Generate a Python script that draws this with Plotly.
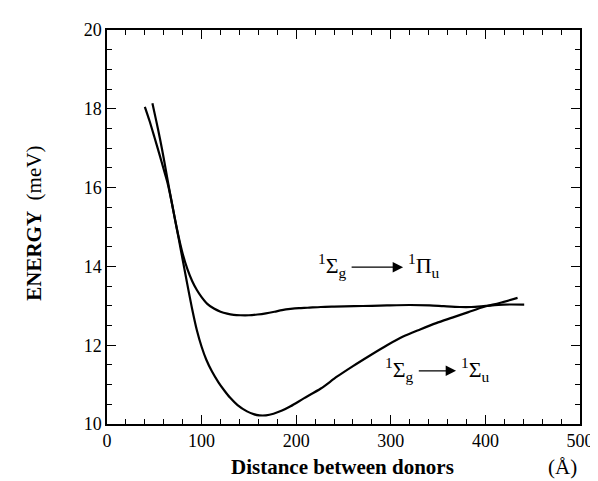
import plotly.graph_objects as go

# Upper curve: 1Σg -> 1Πu
pi_x = [40, 45, 50, 55, 60, 64, 68, 72, 76, 80, 85, 90, 95, 100, 106, 113, 120, 127, 134,
        141, 150, 159, 168, 177, 185, 194, 203, 212, 226, 240, 261, 280, 296, 320, 341,
        356, 373, 385, 398, 419, 441]
pi_e = [18.05, 17.69, 17.29, 16.88, 16.46, 16.12, 15.68, 15.18, 14.72, 14.32, 13.93, 13.63,
        13.4, 13.22, 13.05, 12.93, 12.85, 12.8, 12.77, 12.76, 12.76, 12.78, 12.81, 12.85,
        12.89, 12.92, 12.94, 12.95, 12.97, 12.98, 12.99, 13.0, 13.01, 13.02, 13.01, 12.99,
        12.97, 12.97, 12.99, 13.03, 13.03]

# Lower curve: 1Σg -> 1Σu
su_x = [48, 52, 56, 60, 64, 68, 72, 76, 80, 84, 90, 95, 100, 105, 111, 118, 124, 130, 138,
        148, 155, 161, 168, 176, 185, 194, 208, 226, 243, 260, 278, 296, 313, 331, 348, 365,
        382, 398, 415, 434]
su_e = [18.14, 17.7, 17.24, 16.74, 16.2, 15.68, 15.18, 14.68, 14.17, 13.66, 12.92, 12.38,
        11.96, 11.63, 11.33, 11.05, 10.85, 10.67, 10.48, 10.32, 10.25, 10.22, 10.22, 10.26,
        10.34, 10.45, 10.65, 10.9, 11.2, 11.47, 11.74, 12.0, 12.22, 12.4, 12.56, 12.7,
        12.84, 12.97, 13.07, 13.2]

x_ticks = [0, 100, 200, 300, 400, 500]
y_ticks = [10, 12, 14, 16, 18, 20]

FONT = "Liberation Serif"

fig = go.Figure()
for xs, ys in [(pi_x, pi_e), (su_x, su_e)]:
    fig.add_trace(go.Scatter(x=xs, y=ys, mode="lines",
                             line=dict(color="black", width=2.2, shape="spline", smoothing=0.8),
                             showlegend=False, hoverinfo="skip"))

axis_common = dict(showline=True, linecolor="black", linewidth=1.5, mirror="ticks",
                   ticks="inside", ticklen=9, tickwidth=1.3, tickcolor="black",
                   showgrid=False, zeroline=False,
                   tickfont=dict(family=FONT, size=18, color="black"))

fig.update_xaxes(range=[0, 500], tickvals=x_ticks, ticktext=[str(v) for v in x_ticks],
                 minor=dict(dtick=20, ticklen=5, tickwidth=1.2, tickcolor="black", ticks="inside"),
                 **axis_common)
fig.update_yaxes(range=[10, 20], tickvals=y_ticks, ticktext=[str(v) for v in y_ticks],
                 minor=dict(dtick=0.5, ticklen=5, tickwidth=1.2, tickcolor="black", ticks="inside"),
                 **axis_common)

lab_font = dict(family=FONT, size=22, color="black")
anns = [
    # upper label
    dict(x=256, y=14.02, text="<sup>1</sup>Σ<sub>g</sub>", xanchor="right", yanchor="middle"),
    dict(x=316, y=14.02, text="<sup>1</sup>Π<sub>u</sub>", xanchor="left", yanchor="middle"),
    # lower label
    dict(x=327, y=11.39, text="<sup>1</sup>Σ<sub>g</sub>", xanchor="right", yanchor="middle"),
    dict(x=372, y=11.39, text="<sup>1</sup>Σ<sub>u</sub>", xanchor="left", yanchor="middle"),
]
for a in anns:
    fig.add_annotation(xref="x", yref="y", showarrow=False, font=lab_font, **a)

# arrows
for (x0, x1, yv) in [(257, 313, 13.98), (328, 369, 11.35)]:
    fig.add_annotation(xref="x", yref="y", axref="x", ayref="y", x=x1, y=yv, ax=x0, ay=yv,
                       text="", showarrow=True, arrowhead=2, arrowsize=1.6, arrowwidth=1.3,
                       arrowcolor="black")

# axis titles
fig.add_annotation(xref="paper", yref="paper", x=-0.155, y=0.51, textangle=-90,
                   text="<b>ENERGY</b>  (meV)", showarrow=False,
                   font=dict(family=FONT, size=21, color="black"),
                   xanchor="center", yanchor="middle")
fig.add_annotation(xref="x", yref="paper", x=249, y=-0.11,
                   text="<b>Distance between donors</b>", showarrow=False,
                   font=dict(family=FONT, size=21, color="black"),
                   xanchor="center", yanchor="middle")
fig.add_annotation(xref="x", yref="paper", x=481, y=-0.11,
                   text="(Å)", showarrow=False,
                   font=dict(family=FONT, size=21, color="black"),
                   xanchor="center", yanchor="middle")

fig.update_layout(width=598, height=481, margin=dict(l=99, r=23, t=17, b=65),
                  plot_bgcolor="white", paper_bgcolor="white")

fig.write_html("out.html")
